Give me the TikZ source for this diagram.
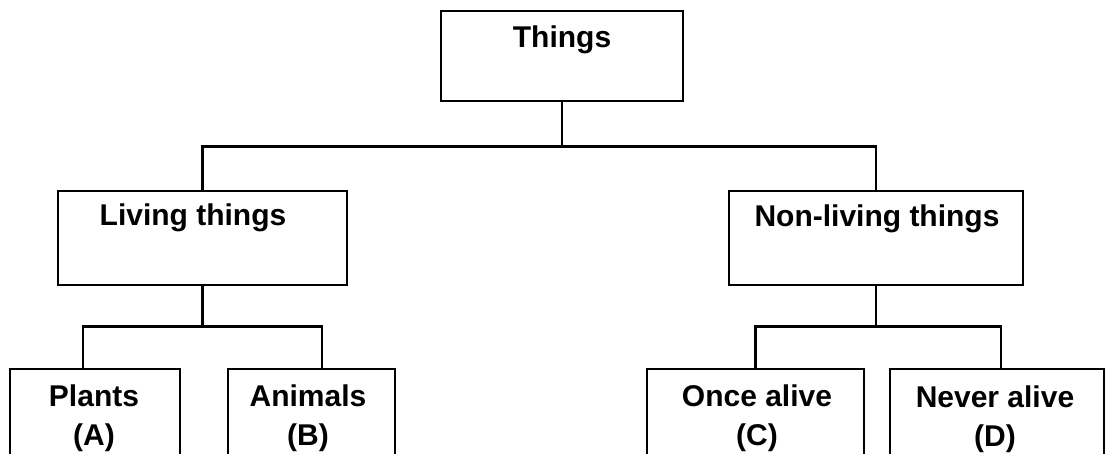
\documentclass[tikz,border=0pt]{standalone}
\usepackage{fontspec}
\setmainfont{Liberation Sans}
\usetikzlibrary{calc}
\begin{document}
\begin{tikzpicture}[x=1pt,y=1pt,
  box/.style={draw=black,line width=2.8pt,inner sep=0pt,minimum width=#1},
  conn/.style={draw=black,line width=2.8pt},
  lbl/.style={inner sep=0pt,font=\fontsize{30}{39}\selectfont\bfseries,align=center}]
\useasboundingbox (0,0) rectangle (1106,-454);
\clip (0,0) rectangle (1106,-454);
\fill[white] (0,0) rectangle (1106,-454);
% boxes
\node[box=242pt,minimum height=90pt] (things) at (562,-56) {};
\node[box=289pt,minimum height=94pt] (living) at (202.5,-238) {};
\node[box=294pt,minimum height=94pt] (nonliving) at (876,-238) {};
\node[box=170pt,minimum height=111pt] (plants) at (95,-424.5) {};
\node[box=167pt,minimum height=111pt] (animals) at (311.5,-424.5) {};
\node[box=217pt,minimum height=111pt] (once) at (755.5,-424.5) {};
\node[box=214pt,minimum height=111pt] (never) at (997,-424.5) {};
% labels
\node[lbl,anchor=base] (tThings) at (562,-48) {Things};
\node[lbl,anchor=base] (tLiving) at (193,-226) {Living things};
\node[lbl,anchor=base] (tNonliving) at (877,-227) {Non-living things};
\node[lbl] (tPlants) at (94,-418) {Plants\\(A)};
\node[lbl] (tAnimals) at (308,-418) {Animals\\(B)};
\node[lbl] (tOnce) at (757,-418) {Once alive\\(C)};
\node[lbl] (tNever) at (995,-419) {Never alive\\(D)};
% connectors
\draw[conn] (things.south) -- ++(0,-44) coordinate (tj);
\draw[conn] (living.north) |- (tj) -| (nonliving.north);
\draw[conn] (living.south) -- ++(0,-40) coordinate (lj);
\draw[conn] ([xshift=-12pt]plants.north) |- (lj) -| ([xshift=10.5pt]animals.north);
\draw[conn] (nonliving.south) -- ++(0,-40) coordinate (nj);
\draw[conn] (once.north) |- (nj) -| ([xshift=4pt]never.north);
\end{tikzpicture}
\end{document}
